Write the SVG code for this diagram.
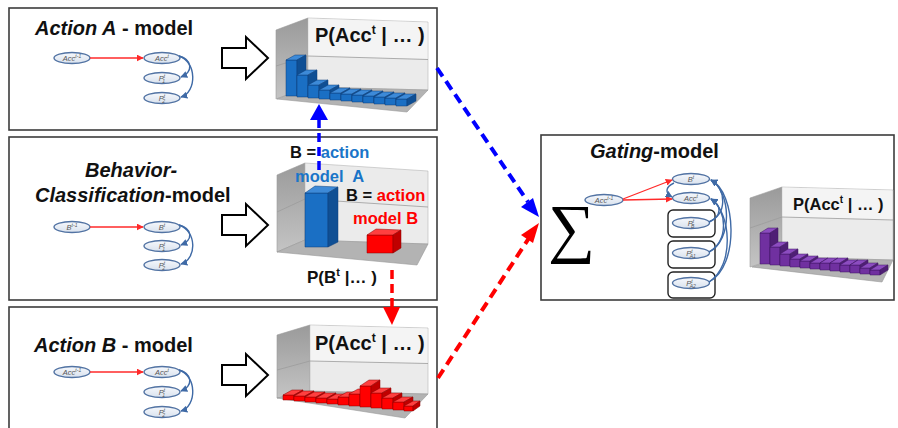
<svg xmlns="http://www.w3.org/2000/svg" width="898" height="428" viewBox="0 0 898 428">
<defs>
<style>
.panel{fill:#fff;stroke:#3c3c3c;stroke-width:1.6}
.title{font-family:"Liberation Sans",Arial,sans-serif;font-weight:bold;font-size:20px;fill:#111}
.blk{fill:#fff;stroke:#000;stroke-width:2;stroke-linejoin:miter}
.node{fill:url(#ng);stroke:#5273a3;stroke-width:1.4}
.nt{font-family:"Liberation Sans",Arial,sans-serif;font-style:italic;font-size:7.5px;fill:#555;text-anchor:middle}
.red{stroke:#ff2a2a;stroke-width:1.3;fill:none}
.blu{stroke:#3f6aa6;stroke-width:1.4;fill:none}
.lw{fill:url(#lwg);stroke:#9a9a9a;stroke-width:0.6}
.bw{fill:#ebebeb;stroke:#b5b5b5;stroke-width:0.6}
.bwt{fill:#f4f4f4}
.fl{fill:#b3b3b3;stroke:#999;stroke-width:0.6}
.grid{stroke:#9c9c9c;stroke-width:0.8;fill:none}
.ct{font-family:"Liberation Sans",Arial,sans-serif;font-weight:bold;fill:#111}
.bf{fill:#1a6fc4;stroke:#0d3f7a;stroke-width:0.5}
.bt{fill:#3d8ad8;stroke:#0d3f7a;stroke-width:0.5}
.bs{fill:#0f4f94;stroke:#0d3f7a;stroke-width:0.5}
.rf{fill:#ff0000;stroke:#8b0000;stroke-width:0.5}
.rt{fill:#ff4040;stroke:#8b0000;stroke-width:0.5}
.rs{fill:#c00000;stroke:#8b0000;stroke-width:0.5}
.pf{fill:#7030a0;stroke:#3e1660;stroke-width:0.5}
.pt{fill:#8c4cc0;stroke:#3e1660;stroke-width:0.5}
.ps{fill:#4f1f75;stroke:#3e1660;stroke-width:0.5}
.lbl{font-family:"Liberation Sans",Arial,sans-serif;font-weight:bold;font-size:16.5px}
.box{fill:#fff;stroke:#222;stroke-width:1.4}
</style>
<linearGradient id="ng" x1="0" y1="0" x2="0" y2="1"><stop offset="0" stop-color="#f6f8fc"/><stop offset="1" stop-color="#d9e2ee"/></linearGradient>
<linearGradient id="lwg" x1="0" y1="0" x2="0" y2="1"><stop offset="0" stop-color="#9a9a9a"/><stop offset="1" stop-color="#c4c4c4"/></linearGradient>
<marker id="mr" viewBox="0 0 10 10" refX="9" refY="5" markerWidth="7" markerHeight="7" markerUnits="userSpaceOnUse" orient="auto"><path d="M0,0 L10,5 L0,10 Z" fill="#ff2a2a"/></marker>
<marker id="mb" viewBox="0 0 10 10" refX="9" refY="5" markerWidth="7" markerHeight="7" markerUnits="userSpaceOnUse" orient="auto"><path d="M0,0 L10,5 L0,10 Z" fill="#3f6aa6"/></marker>
</defs>

<!-- Panel A -->
<g id="panelA">
<rect class="panel" x="9" y="8" width="428" height="122"/>
<text class="title" x="35" y="35"><tspan font-style="italic">Action A</tspan> - model</text>
<g id="a-acc-prev"><ellipse class="node" cx="72" cy="58" rx="18" ry="5.5"/><text class="nt" x="72" y="61">Acc<tspan font-size="5" dy="-3">t-1</tspan></text></g>
<g id="a-acc"><ellipse class="node" cx="162" cy="58" rx="18" ry="5.5"/><text class="nt" x="162" y="61">Acc<tspan font-size="5" dy="-3">t</tspan></text></g>
<g id="a-p1"><ellipse class="node" cx="162" cy="78" rx="18" ry="5.5"/><text class="nt" x="162" y="81">P<tspan font-size="5" dy="-3">t</tspan><tspan font-size="5" dx="-3" dy="5">1</tspan></text></g>
<g id="a-p2"><ellipse class="node" cx="162" cy="98" rx="18" ry="5.5"/><text class="nt" x="162" y="101">P<tspan font-size="5" dy="-3">t</tspan><tspan font-size="5" dx="-3" dy="5">2</tspan></text></g>
<path class="blk" d="M222,48 H246 V37 L268,58 L246,79 V68 H222 Z"/>
<g id="chartA">
<polygon class="lw" points="276,30 308,18 308,87 276,99"/>
<polygon class="bw" points="308,18 428,22 428,90 308,87"/>
<polygon class="bwt" points="308.5,18.5 427.5,22.5 427.5,59 308.5,56"/>
<line class="grid" x1="308" y1="56" x2="428" y2="59.5"/>
<line class="grid" x1="276" y1="66" x2="308" y2="56"/>
<polygon class="fl" points="277,99 308,87 428,90 407,112"/>
<text class="ct" x="315" y="42" font-size="20">P(Acc<tspan font-size="12" dy="-8">t</tspan><tspan dy="8"> | … )</tspan></text>
</g>
</g>

<!-- Panel B -->
<g id="panelB">
<rect class="panel" x="9" y="137" width="428" height="163"/>
<text class="title" x="85" y="177" font-style="italic">Behavior-</text>
<text class="title" x="35" y="202"><tspan font-style="italic">Classification</tspan>-model</text>
<g id="b-b-prev"><ellipse class="node" cx="72" cy="227" rx="18" ry="5.5"/><text class="nt" x="72" y="230">B<tspan font-size="5" dy="-3">t-1</tspan></text></g>
<g id="b-b"><ellipse class="node" cx="162" cy="227" rx="18" ry="5.5"/><text class="nt" x="162" y="230">B<tspan font-size="5" dy="-3">t</tspan></text></g>
<g id="b-p1"><ellipse class="node" cx="162" cy="246" rx="18" ry="5.5"/><text class="nt" x="162" y="249">P<tspan font-size="5" dy="-3">t</tspan><tspan font-size="5" dx="-3" dy="5">1</tspan></text></g>
<g id="b-p2"><ellipse class="node" cx="162" cy="265" rx="18" ry="5.5"/><text class="nt" x="162" y="268">P<tspan font-size="5" dy="-3">t</tspan><tspan font-size="5" dx="-3" dy="5">2</tspan></text></g>
<path class="blk" d="M222,215 H246 V204 L268,225 L246,246 V235 H222 Z"/>
<g id="chartB">
<polygon class="lw" points="277,175 305,163 305,240 277,252"/>
<polygon class="bw" points="305,163 428,171 428,244 305,240" fill="#f2f2f2"/>
<line class="grid" x1="305" y1="199" x2="428" y2="207"/>
<line class="grid" x1="277" y1="212" x2="305" y2="199"/>
<polygon class="fl" points="277,252 305,240 428,244 417,265" fill="#a8a8a8"/>
<polygon class="bf" points="305,193 328,193 328,247 305,247"/>
<polygon class="bt" points="305,193 315,186 338,187 328,193"/>
<polygon class="bs" points="328,193 338,187 338,242 328,247"/>
<polygon class="rf" points="367,235 393,235 393,253 367,253"/>
<polygon class="rt" points="367,235 376,229 401,230 393,235"/>
<polygon class="rs" points="393,235 401,230 401,248 393,253"/>
<text class="lbl" x="290" y="158" fill="#111">B = <tspan fill="#1a75c8">action</tspan></text>
<text class="lbl" x="295" y="182" fill="#1a75c8" xml:space="preserve">model  A</text>
<text class="lbl" x="346" y="201" fill="#111">B = <tspan fill="#ff0000">action</tspan></text>
<text class="lbl" x="353" y="224" fill="#ff0000">model B</text>
<text class="ct" x="307" y="283" font-size="17">P(B<tspan font-size="11" dy="-7">t</tspan><tspan dy="7"> |… )</tspan></text>
</g>
</g>

<!-- Panel C -->
<g id="panelC">
<rect class="panel" x="9" y="307" width="428" height="130"/>
<text class="title" x="34" y="352"><tspan font-style="italic">Action B</tspan> - model</text>
<g id="c-acc-prev"><ellipse class="node" cx="72" cy="372" rx="18" ry="5.5"/><text class="nt" x="72" y="375">Acc<tspan font-size="5" dy="-3">t-1</tspan></text></g>
<g id="c-acc"><ellipse class="node" cx="162" cy="372" rx="18" ry="5.5"/><text class="nt" x="162" y="375">Acc<tspan font-size="5" dy="-3">t</tspan></text></g>
<g id="c-p1"><ellipse class="node" cx="162" cy="392" rx="18" ry="5.5"/><text class="nt" x="162" y="395">P<tspan font-size="5" dy="-3">t</tspan><tspan font-size="5" dx="-3" dy="5">1</tspan></text></g>
<g id="c-p2"><ellipse class="node" cx="162" cy="412" rx="18" ry="5.5"/><text class="nt" x="162" y="415">P<tspan font-size="5" dy="-3">t</tspan><tspan font-size="5" dx="-3" dy="5">2</tspan></text></g>
<path class="blk" d="M222,365 H246 V354 L268,375 L246,396 V385 H222 Z"/>
<g id="chartC">
<polygon class="lw" points="277,335 310,325 310,392 277,398"/>
<polygon class="bw" points="310,325 428,328 428,394 310,392"/>
<polygon class="bwt" points="310.5,325.5 427.5,328.5 427.5,363 310.5,361"/>
<line class="grid" x1="310" y1="361" x2="428" y2="363.5"/>
<line class="grid" x1="277" y1="370" x2="310" y2="361"/>
<polygon class="fl" points="277,398 310,391 428,394 405,418"/>
<text class="ct" x="315" y="350" font-size="20">P(Acc<tspan font-size="12" dy="-8">t</tspan><tspan dy="8"> | … )</tspan></text>
</g>
</g>

<!-- Gating panel -->
<g id="gating">
<rect class="panel" x="541" y="135" width="353" height="165"/>
<text class="title" x="590" y="158" font-size="21.5"><tspan font-style="italic">Gating</tspan>-model</text>
<text x="548" y="250" font-family="Liberation Serif,Times New Roman,serif" font-size="66" fill="#000">∑</text>
<g id="g-acc-prev"><ellipse class="node" cx="604" cy="200" rx="19" ry="5.5"/><text class="nt" x="604" y="203">Acc<tspan font-size="5" dy="-3">t-1</tspan></text></g>
<g id="g-b"><ellipse class="node" cx="691" cy="179" rx="18.5" ry="5.5"/><text class="nt" x="691" y="182">B<tspan font-size="5" dy="-3">t</tspan></text></g>
<g id="g-acc"><ellipse class="node" cx="691" cy="198" rx="18.5" ry="5.5"/><text class="nt" x="691" y="201">Acc<tspan font-size="5" dy="-3">t</tspan></text></g>
<g id="g-pb"><rect class="box" x="668" y="210" width="47" height="27" rx="5"/><ellipse class="node" cx="691" cy="223" rx="18.5" ry="5.5"/><text class="nt" x="691" y="226">P<tspan font-size="5" dy="-3">t</tspan><tspan font-size="5" dx="-3" dy="5">B</tspan></text></g>
<g id="g-pa1"><rect class="box" x="668" y="241" width="47" height="27" rx="5"/><ellipse class="node" cx="691" cy="253" rx="18.5" ry="5.5"/><text class="nt" x="691" y="256">P<tspan font-size="5" dy="-3">t</tspan><tspan font-size="5" dx="-3" dy="5">A1</tspan></text></g>
<g id="g-pa2"><rect class="box" x="668" y="272" width="47" height="26" rx="5"/><ellipse class="node" cx="691" cy="283" rx="18.5" ry="5.5"/><text class="nt" x="691" y="286">P<tspan font-size="5" dy="-3">t</tspan><tspan font-size="5" dx="-3" dy="5">A2</tspan></text></g>
<g id="chartD">
<polygon class="lw" points="750,198 782,187 782,257 750,267"/>
<polygon class="bw" points="782,187 893,190 893,260 782,257"/>
<polygon class="bwt" points="782.5,187.5 892.5,190.5 892.5,219.5 782.5,217"/>
<line class="grid" x1="782" y1="217" x2="893" y2="220"/>
<line class="grid" x1="750" y1="228" x2="782" y2="217"/>
<polygon class="fl" points="752,267 782,257 893,260 882,282"/>
<text class="ct" x="793" y="210" font-size="16.5">P(Acc<tspan font-size="10" dy="-7">t</tspan><tspan dy="7"> | … )</tspan></text>
</g>
</g>

<!-- bars -->
<g id="barsA">
<g><polygon class="bf" points="286,60 297,60 297,96 286,96"/><polygon class="bt" points="286,60 295,55 306,55 297,60"/><polygon class="bs" points="297,60 306,55 306,91 297,96"/></g>
<g><polygon class="bf" points="297,75 308,75 308,97 297,97"/><polygon class="bt" points="297,75 306,70 317,70 308,75"/><polygon class="bs" points="308,75 317,70 317,92 308,97"/></g>
<g><polygon class="bf" points="308,85 319,85 319,98 308,98"/><polygon class="bt" points="308,85 317,80 328,80 319,85"/><polygon class="bs" points="319,85 328,80 328,93 319,98"/></g>
<g><polygon class="bf" points="319,90 330,90 330,99 319,99"/><polygon class="bt" points="319,90 328,85 339,85 330,90"/><polygon class="bs" points="330,90 339,85 339,94 330,99"/></g>
<g><polygon class="bf" points="330,93 341,93 341,100 330,100"/><polygon class="bt" points="330,93 339,88 350,88 341,93"/><polygon class="bs" points="341,93 350,88 350,95 341,100"/></g>
<g><polygon class="bf" points="341,94 352,94 352,101 341,101"/><polygon class="bt" points="341,94 350,89 361,89 352,94"/><polygon class="bs" points="352,94 361,89 361,96 352,101"/></g>
<g><polygon class="bf" points="352,95 363,95 363,102 352,102"/><polygon class="bt" points="352,95 361,90 372,90 363,95"/><polygon class="bs" points="363,95 372,90 372,97 363,102"/></g>
<g><polygon class="bf" points="363,96 374,96 374,103 363,103"/><polygon class="bt" points="363,96 372,91 383,91 374,96"/><polygon class="bs" points="374,96 383,91 383,98 374,103"/></g>
<g><polygon class="bf" points="374,97 385,97 385,104 374,104"/><polygon class="bt" points="374,97 383,92 394,92 385,97"/><polygon class="bs" points="385,97 394,92 394,99 385,104"/></g>
<g><polygon class="bf" points="385,98 396,98 396,105 385,105"/><polygon class="bt" points="385,98 394,93 405,93 396,98"/><polygon class="bs" points="396,98 405,93 405,100 396,105"/></g>
<g><polygon class="bf" points="396,99 407,99 407,106 396,106"/><polygon class="bt" points="396,99 405,94 416,94 407,99"/><polygon class="bs" points="407,99 416,94 416,101 407,106"/></g>
</g>
<g id="barsC">
<g><polygon class="rf" points="283,395 294,395 294,400 283,400"/><polygon class="rt" points="283,395 292,390 303,390 294,395"/><polygon class="rs" points="294,395 303,390 303,395 294,400"/></g>
<g><polygon class="rf" points="294,396 305,396 305,401 294,401"/><polygon class="rt" points="294,396 303,391 314,391 305,396"/><polygon class="rs" points="305,396 314,391 314,396 305,401"/></g>
<g><polygon class="rf" points="305,397 316,397 316,402 305,402"/><polygon class="rt" points="305,397 314,392 325,392 316,397"/><polygon class="rs" points="316,397 325,392 325,397 316,402"/></g>
<g><polygon class="rf" points="316,398 327,398 327,403 316,403"/><polygon class="rt" points="316,398 325,393 336,393 327,398"/><polygon class="rs" points="327,398 336,393 336,398 327,403"/></g>
<g><polygon class="rf" points="327,399 338,399 338,404 327,404"/><polygon class="rt" points="327,399 336,394 347,394 338,399"/><polygon class="rs" points="338,399 347,394 347,399 338,404"/></g>
<g><polygon class="rf" points="338,397 349,397 349,405 338,405"/><polygon class="rt" points="338,397 347,392 358,392 349,397"/><polygon class="rs" points="349,397 358,392 358,400 349,405"/></g>
<g><polygon class="rf" points="349,394 360,394 360,406 349,406"/><polygon class="rt" points="349,394 358,389 369,389 360,394"/><polygon class="rs" points="360,394 369,389 369,401 360,406"/></g>
<g><polygon class="rf" points="360,386 371,386 371,407 360,407"/><polygon class="rt" points="360,386 369,380 380,380 371,386"/><polygon class="rs" points="371,386 380,380 380,402 371,407"/></g>
<g><polygon class="rf" points="371,393 382,393 382,408 371,408"/><polygon class="rt" points="371,393 380,388 391,388 382,393"/><polygon class="rs" points="382,393 391,388 391,403 382,408"/></g>
<g><polygon class="rf" points="382,398 393,398 393,409 382,409"/><polygon class="rt" points="382,398 391,393 402,393 393,398"/><polygon class="rs" points="393,398 402,393 402,404 393,409"/></g>
<g><polygon class="rf" points="393,402 404,402 404,410 393,410"/><polygon class="rt" points="393,402 402,397 413,397 404,402"/><polygon class="rs" points="404,402 413,397 413,405 404,410"/></g>
<g><polygon class="rf" points="404,406 413,406 413,411 404,411"/><polygon class="rt" points="404,406 413,401 420,401 413,406"/><polygon class="rs" points="413,406 420,401 420,406 413,411"/></g>
</g>
<g id="barsD">
<g><polygon class="pf" points="760,233 770,233 770,264 760,264"/><polygon class="pt" points="760,233 768,228 778,228 770,233"/><polygon class="ps" points="770,233 778,228 778,259 770,264"/></g>
<g><polygon class="pf" points="770,247 780,247 780,265 770,265"/><polygon class="pt" points="770,247 778,242 788,242 780,247"/><polygon class="ps" points="780,247 788,242 788,260 780,265"/></g>
<g><polygon class="pf" points="780,254 790,254 790,266 780,266"/><polygon class="pt" points="780,254 788,249 798,249 790,254"/><polygon class="ps" points="790,254 798,249 798,261 790,266"/></g>
<g><polygon class="pf" points="790,259 800,259 800,267 790,267"/><polygon class="pt" points="790,259 798,254 808,254 800,259"/><polygon class="ps" points="800,259 808,254 808,262 800,267"/></g>
<g><polygon class="pf" points="800,261 810,261 810,268 800,268"/><polygon class="pt" points="800,261 808,256 818,256 810,261"/><polygon class="ps" points="810,261 818,256 818,263 810,268"/></g>
<g><polygon class="pf" points="810,263 820,263 820,269 810,269"/><polygon class="pt" points="810,263 818,258 828,258 820,263"/><polygon class="ps" points="820,263 828,258 828,264 820,269"/></g>
<g><polygon class="pf" points="820,263 830,263 830,270 820,270"/><polygon class="pt" points="820,263 828,258 838,258 830,263"/><polygon class="ps" points="830,263 838,258 838,265 830,270"/></g>
<g><polygon class="pf" points="830,263 840,263 840,271 830,271"/><polygon class="pt" points="830,263 838,258 848,258 840,263"/><polygon class="ps" points="840,263 848,258 848,266 840,271"/></g>
<g><polygon class="pf" points="840,265 850,265 850,272 840,272"/><polygon class="pt" points="840,265 848,260 858,260 850,265"/><polygon class="ps" points="850,265 858,260 858,267 850,272"/></g>
<g><polygon class="pf" points="850,265 860,265 860,273 850,273"/><polygon class="pt" points="850,265 858,260 868,260 860,265"/><polygon class="ps" points="860,265 868,260 868,268 860,273"/></g>
<g><polygon class="pf" points="860,268 870,268 870,274 860,274"/><polygon class="pt" points="860,268 868,263 878,263 870,268"/><polygon class="ps" points="870,268 878,263 878,269 870,274"/></g>
<g><polygon class="pf" points="870,270 880,270 880,275 870,275"/><polygon class="pt" points="870,270 878,265 888,265 880,270"/><polygon class="ps" points="880,270 888,265 888,270 880,275"/></g>
</g>

<!-- connectors -->
<g id="connectors">
<line class="red" x1="90" y1="58" x2="143" y2="58" marker-end="url(#mr)"/>
<path class="blu" d="M179,56 C193,60 193,72 181,77" marker-end="url(#mb)"/>
<path class="blu" d="M179,56 C197,62 197,92 181,97" marker-end="url(#mb)"/>
<line class="red" x1="90" y1="227" x2="143" y2="227" marker-end="url(#mr)"/>
<path class="blu" d="M179,225 C193,229 193,240 181,245" marker-end="url(#mb)"/>
<path class="blu" d="M179,225 C197,231 197,259 181,264" marker-end="url(#mb)"/>
<line class="red" x1="90" y1="372" x2="143" y2="372" marker-end="url(#mr)"/>
<path class="blu" d="M179,370 C193,374 193,386 181,391" marker-end="url(#mb)"/>
<path class="blu" d="M179,370 C197,376 197,406 181,411" marker-end="url(#mb)"/>
<line class="red" x1="623" y1="199" x2="672" y2="180" marker-end="url(#mr)"/>
<line class="red" x1="623" y1="200" x2="672" y2="199" marker-end="url(#mr)"/>
<path class="blu" d="M674,183 C665,187 665,193 672,197" marker-end="url(#mb)"/>
<path class="blu" d="M709,222 C727,214 727,190 711,180" marker-end="url(#mb)"/>
<path class="blu" d="M709,222 C722,216 722,205 711,199" marker-end="url(#mb)"/>
<path class="blu" d="M709,252 C733,240 731,192 711,180" marker-end="url(#mb)"/>
<path class="blu" d="M709,252 C729,240 727,210 711,199" marker-end="url(#mb)"/>
<path class="blu" d="M709,282 C740,266 736,192 711,180" marker-end="url(#mb)"/>
<path class="blu" d="M709,282 C735,266 731,212 711,199" marker-end="url(#mb)"/>
<line x1="319" y1="170" x2="319" y2="118" stroke="#0000ff" stroke-width="3.5" stroke-dasharray="9,5"/>
<polygon points="319,104 328,120 310,120" fill="#0000ff"/>
<line x1="392" y1="270" x2="392" y2="309" stroke="#ff0000" stroke-width="3.5" stroke-dasharray="9,5"/>
<polygon points="392,325 383,307 400,307" fill="#ff0000"/>
<line x1="437" y1="68" x2="528" y2="202" stroke="#0000ff" stroke-width="4" stroke-dasharray="10,6"/>
<polygon points="539,217 521,207 533,198" fill="#0000ff"/>
<line x1="438" y1="378" x2="529" y2="238" stroke="#ff0000" stroke-width="4" stroke-dasharray="10,6"/>
<polygon points="539,223 533,243 521,235" fill="#ff0000"/>
</g>
</svg>
